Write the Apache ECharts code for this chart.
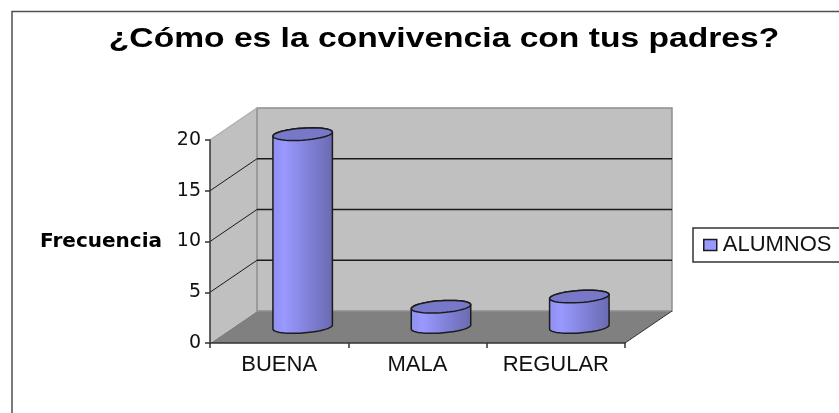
<!DOCTYPE html>
<html lang="es">

<head>
    <meta charset="UTF-8">
    <title>Convivencia</title>
    <script src="https://cdn.jsdelivr.net/npm/echarts@6/dist/echarts.min.js"></script>
    <style>
        html, body { margin: 0; padding: 0; background: #fff; }
        #main { width: 839px; height: 413px; }
    </style>
</head>

<body>
<div id="main"></div>

<script type="text/javascript">
    var titleText = '¿Cómo es la convivencia con tus padres?';
    var yAxisName = 'Frecuencia';
    var seriesName = 'ALUMNOS';
    var categories = ['BUENA', 'MALA', 'REGULAR'];
    var alumnos = [19, 2, 3];
    var yMin = 0;
    var yMax = 20;
    var yStep = 5;
    var yLines = [5, 10, 15];

    var font = '"Liberation Sans", Arial, sans-serif';
    var wideFont = '"DejaVu Sans", Verdana, sans-serif';
    // fondo de la caja 3D respecto al plano frontal
    var depthX = 47;
    var depthY = -32;

    function linePts(x1, y1, x2, y2, w, color) {
        return {
            type: 'line',
            shape: {x1: x1, y1: y1, x2: x2, y2: y2},
            style: {stroke: color, lineWidth: w}
        };
    }

    function renderWalls(params, api) {
        var band = api.size([1, 0])[0];
        var p0 = api.coord([0, yMin]);
        var pTop = api.coord([0, yMax]);
        var l = p0[0] - band / 2;
        var r = l + band * categories.length;
        var b = p0[1];
        var t = pTop[1];
        var edge = '#8e8e8e';
        var children = [
            // piso
            {type: 'polygon', shape: {points: [[l, b], [r, b], [r + depthX, b + depthY], [l + depthX, b + depthY]]},
                style: {fill: '#808080'}},
            // pared izquierda
            {type: 'polygon', shape: {points: [[l, b], [l, t], [l + depthX, t + depthY], [l + depthX, b + depthY]]},
                style: {fill: '#c0c0c0'}},
            // pared del fondo
            {type: 'rect', shape: {x: l + depthX, y: t + depthY, width: r - l, height: b - t},
                style: {fill: '#c0c0c0', stroke: edge, lineWidth: 1.5}},
            linePts(l, t, l + depthX, t + depthY, 1.5, '#b0b0b0')
        ];
        yLines.forEach(function (v) {
            var y = api.coord([0, v])[1];
            children.push(linePts(l, y, l + depthX, y + depthY, 1, '#1a1a1a'));
            children.push(linePts(l + depthX, y + depthY, r + depthX, y + depthY, 1.5, '#1a1a1a'));
        });
        children.push(linePts(r, b, r + depthX, b + depthY, 1, '#333333'));
        return {type: 'group', children: children};
    }

    function ellipsePts(cx, cy, a, h, s, from, to) {
        var pts = [];
        var n = 40;
        for (var i = 0; i <= n; i++) {
            var ang = from + (to - from) * i / n;
            pts.push([cx + a * Math.cos(ang), cy + h * Math.sin(ang) - s * Math.cos(ang)]);
        }
        return pts;
    }

    function renderCylinder(params, api) {
        var idx = api.value(0);
        var band = api.size([1, 0])[0];
        var top = api.coord([idx, api.value(1)]);
        var base = api.coord([idx, yMin]);
        var cx = top[0] + depthX / 2;
        var yt = top[1] + depthY / 2;
        var yb = base[1] + depthY / 2;
        var a = band * 0.215;
        var h = 6;
        var s = 2;
        var body = ellipsePts(cx, yt, a, h, s, Math.PI, 2 * Math.PI)
            .concat(ellipsePts(cx, yb, a, h, s, 0, Math.PI));
        return {
            type: 'group',
            children: [
                {
                    type: 'polygon',
                    shape: {points: body},
                    style: {
                        stroke: '#1c1c1c',
                        lineWidth: 1.5,
                        fill: {
                            type: 'linear', x: 0, y: 0, x2: 1, y2: 0,
                            colorStops: [
                                {offset: 0, color: '#8f8ff0'},
                                {offset: 0.2, color: '#9999ff'},
                                {offset: 0.6, color: '#8080d8'},
                                {offset: 1, color: '#6a6ab0'}
                            ]
                        }
                    }
                },
                {
                    type: 'polygon',
                    shape: {points: ellipsePts(cx, yt, a, h, s, 0, 2 * Math.PI)},
                    style: {fill: '#7878c8', stroke: '#1c1c1c', lineWidth: 1.5}
                }
            ]
        };
    }

    var myChart = echarts.init(document.getElementById('main'), null, {renderer: 'canvas'});

    var option = {
        animation: false,
        backgroundColor: '#ffffff',
        textStyle: {fontFamily: font},
        legend: {
            data: [seriesName],
            left: 693,
            top: 228,
            icon: 'rect',
            itemWidth: 13,
            itemHeight: 11,
            itemGap: 0,
            padding: [6, 30, 6, 10],
            borderColor: '#333',
            borderWidth: 1.5,
            backgroundColor: '#fff',
            itemStyle: {borderColor: '#1c1c1c', borderWidth: 1.5},
            textStyle: {fontFamily: font, fontSize: 22, color: '#111', padding: [0, 0, 0, 1]}
        },
        grid: {left: 210, top: 140, width: 415, height: 203},
        xAxis: {
            type: 'category',
            data: categories,
            z: 10,
            axisLine: {lineStyle: {color: '#333', width: 1.5}},
            axisTick: {show: true, length: 5, lineStyle: {color: '#333', width: 1.5}},
            axisLabel: {fontFamily: font, fontSize: 22, color: '#111', margin: 11},
            splitLine: {show: false}
        },
        yAxis: {
            type: 'value',
            min: yMin,
            max: yMax,
            interval: yStep,
            z: 10,
            name: yAxisName,
            nameLocation: 'middle',
            nameRotate: 0,
            nameGap: 48,
            nameTextStyle: {fontFamily: wideFont, fontWeight: 'bold', fontSize: 20, color: '#000'},
            axisLine: {show: true, lineStyle: {color: '#333', width: 1.5}},
            axisTick: {show: true, length: 5, lineStyle: {color: '#333', width: 1.5}},
            axisLabel: {fontFamily: wideFont, fontSize: 19, color: '#111', margin: 9},
            splitLine: {show: false}
        },
        graphic: [
            {
                type: 'rect',
                silent: true,
                shape: {x: 12, y: 11.5, width: 900, height: 500},
                style: {fill: 'none', stroke: '#505050', lineWidth: 1.5}
            },
            {
                // el titulo del original esta estirado a lo ancho
                type: 'text',
                silent: true,
                x: 444,
                y: 39,
                scaleX: 1.2,
                style: {
                    text: titleText,
                    font: 'bold 28px ' + font,
                    fill: '#000',
                    textAlign: 'center',
                    textVerticalAlign: 'middle'
                }
            }
        ],
        series: [
            {
                name: 'paredes',
                type: 'custom',
                z: 1,
                renderItem: renderWalls,
                data: [[0, 0]],
                silent: true
            },
            {
                name: seriesName,
                type: 'custom',
                z: 2,
                renderItem: renderCylinder,
                itemStyle: {color: '#9999ff'},
                encode: {x: 0, y: 1},
                data: alumnos.map(function (v, i) { return [i, v]; })
            }
        ]
    };

    myChart.setOption(option);
</script>
</body>

</html>
